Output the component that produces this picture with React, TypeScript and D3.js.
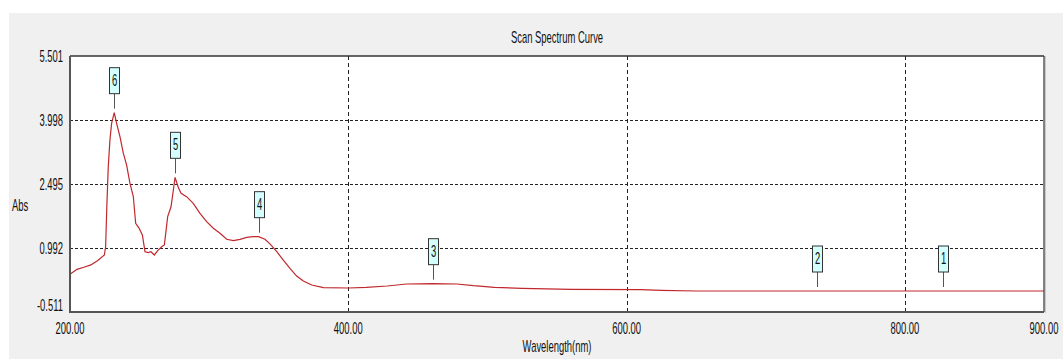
import React from "react";
import * as d3 from "d3";

// Scan data: wavelength (nm) and absorbance
const wavelengths = [
  200, 205, 210, 215, 220, 224.7, 225.6, 226.5, 227.5, 228.7, 229.9, 231.8,
  233.5, 235.9, 238.3, 240.7, 243.1, 245.5, 247.2, 249.6, 252.0, 253.9, 256.3,
  258.2, 260.6, 263.0, 265.9, 267.8, 268.8, 270.2, 272.6, 274.3, 275.5, 277.8,
  279.8, 283.8, 288.6, 293.4, 298.2, 303.0, 307.8, 312.6, 317.4, 322.2, 327.0,
  331.7, 335.5, 340.1, 343.7, 348.6, 353.3, 358.1, 362.9, 367.7, 373.7, 382.1,
  400, 413, 428, 442, 460.7, 478, 490, 505, 525, 560, 610, 625, 650, 736.5,
  827.4, 900,
];
const absorbance = [
  0.374, 0.49, 0.54, 0.595, 0.7, 0.828, 1.02, 2.0, 2.9, 3.53, 3.92, 4.17,
  3.92, 3.61, 3.22, 2.94, 2.51, 2.2, 1.57, 1.46, 1.3, 0.905, 0.882,
  0.905, 0.828, 0.929, 1.02, 1.063, 1.337, 1.728, 1.96, 2.354, 2.652, 2.418,
  2.277, 2.197, 2.04, 1.807, 1.61, 1.455, 1.337, 1.196, 1.164, 1.196, 1.243,
  1.258, 1.258, 1.196, 1.09, 0.905, 0.71, 0.515, 0.334, 0.217, 0.123, 0.06,
  0.053, 0.069, 0.1, 0.147, 0.154, 0.147, 0.107, 0.069, 0.046, 0.02, 0.013,
  -0.005, -0.018, -0.018, -0.018, -0.018,
];

// Peak markers
const markerIds = ["1", "2", "3", "4", "5", "6"];
const markerWavelengths = [827.4, 736.5, 460.7, 335.5, 275.5, 231.8];
const markerAbs = [-0.018, -0.018, 0.154, 1.258, 2.652, 4.17];

// Axis ticks
const yTicks = [5.501, 3.998, 2.495, 0.992, -0.511];
const xTicks = [200, 400, 600, 800, 900];
const xGrid = [400, 600, 800];
const yGrid = [3.998, 2.495, 0.992];

const W = 1063;
const H = 359;
const plot = { left: 70, top: 56, right: 1044, bottom: 312 };

const FONT = "'Liberation Sans', Arial, sans-serif";
const SX = 0.82;
const SY = 1.4;
const FS = 11.5;

function Label({
  x,
  y,
  anchor,
  children,
}: {
  x: number;
  y: number;
  anchor: "start" | "middle" | "end";
  children: React.ReactNode;
}) {
  return (
    <text
      transform={`translate(${x},${y}) scale(${SX},${SY})`}
      textAnchor={anchor}
      fontFamily={FONT}
      fontSize={FS}
      fill="#111"
    >
      {children}
    </text>
  );
}

export default function App() {
  const x = d3.scaleLinear().domain([200, 900]).range([plot.left, plot.right]);
  const y = d3.scaleLinear().domain([-0.511, 5.501]).range([plot.bottom, plot.top]);

  const pts: [number, number][] = wavelengths.map((w, i) => [w, absorbance[i]]);
  const line = d3
    .line<[number, number]>()
    .x((d) => x(d[0]))
    .y((d) => y(d[1]))
    .curve(d3.curveLinear);

  const cx = (plot.left + plot.right) / 2;

  return (
    <svg
      width={W}
      height={H}
      style={{ position: "absolute", left: 0, top: 0, display: "block" }}
    >
      <rect x={0} y={0} width={W} height={H} fill="#ffffff" />
      <rect x={9} y={13} width={W - 9} height={H - 13} fill="#f0f0f0" />

      <Label x={cx} y={43} anchor="middle">
        Scan Spectrum Curve
      </Label>

      {/* plot area */}
      <rect
        x={plot.left}
        y={plot.top}
        width={plot.right - plot.left}
        height={plot.bottom - plot.top}
        fill="#ffffff"
      />

      {/* grid */}
      {yGrid.map((v) => (
        <line
          key={"yg" + v}
          x1={plot.left}
          x2={plot.right}
          y1={Math.round(y(v)) + 0.5}
          y2={Math.round(y(v)) + 0.5}
          stroke="#222"
          strokeWidth={1}
          strokeDasharray="3,2"
        />
      ))}
      {xGrid.map((v) => (
        <line
          key={"xg" + v}
          x1={Math.round(x(v)) + 0.5}
          x2={Math.round(x(v)) + 0.5}
          y1={plot.top}
          y2={plot.bottom}
          stroke="#222"
          strokeWidth={1}
          strokeDasharray="4,3"
        />
      ))}

      {/* spectrum */}
      <path d={line(pts) ?? ""} fill="none" stroke="#c0282d" strokeWidth={1.2} />

      {/* frame */}
      <line x1={plot.left} x2={plot.right} y1={plot.top} y2={plot.top} stroke="#333" strokeWidth={1.5} />
      <line x1={plot.right} x2={plot.right} y1={plot.top} y2={plot.bottom} stroke="#333" strokeWidth={1.2} />
      <line x1={plot.right + 1.5} x2={plot.right + 1.5} y1={plot.top} y2={plot.bottom + 1} stroke="#c8c8c8" strokeWidth={1} />
      <line x1={plot.left} x2={plot.left} y1={plot.top} y2={plot.bottom + 1} stroke="#555" strokeWidth={2} />
      <line x1={plot.left} x2={plot.right} y1={plot.bottom} y2={plot.bottom} stroke="#555" strokeWidth={2} />

      {/* markers */}
      {markerIds.map((id, i) => {
        const mx = Math.round(x(markerWavelengths[i])) + 0.5;
        const my = y(markerAbs[i]);
        const stemEnd = my - 4;
        const boxBottom = stemEnd - 15;
        const boxTop = boxBottom - 26;
        return (
          <g key={"m" + id}>
            <line x1={mx} x2={mx} y1={boxBottom} y2={stemEnd} stroke="#555" strokeWidth={1} />
            <rect
              x={mx - 5}
              y={boxTop}
              width={10}
              height={26}
              fill="#d4ffff"
              stroke="#333"
              strokeWidth={1}
            />
            <Label x={mx} y={boxTop + 18} anchor="middle">
              {id}
            </Label>
          </g>
        );
      })}

      {/* y tick labels */}
      {yTicks.map((v, i) => (
        <Label
          key={"yt" + v}
          x={63}
          y={y(v) + 6 - (i === yTicks.length - 1 ? 7 : 0)}
          anchor="end"
        >
          {v.toFixed(3)}
        </Label>
      ))}
      <Label x={12} y={210.5} anchor="start">
        Abs
      </Label>

      {/* x tick labels */}
      {xTicks.map((v) => (
        <Label key={"xt" + v} x={x(v)} y={334} anchor="middle">
          {v.toFixed(2)}
        </Label>
      ))}
      <Label x={cx} y={352} anchor="middle">
        Wavelength(nm)
      </Label>
    </svg>
  );
}
